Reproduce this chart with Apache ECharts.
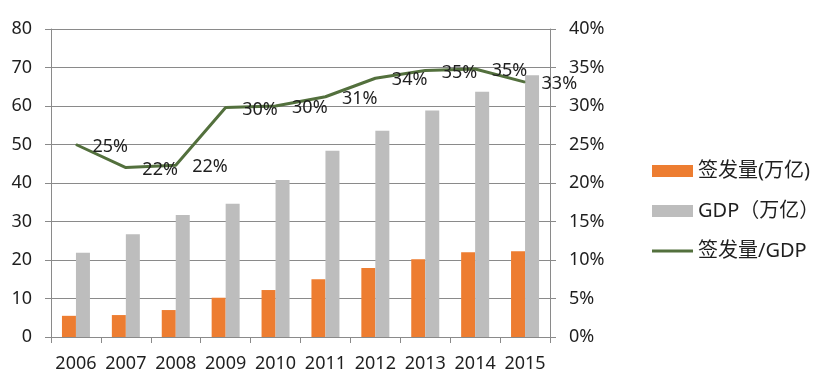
<!DOCTYPE html>
<html>
<head>
<meta charset="utf-8">
<script src="https://cdn.jsdelivr.net/npm/echarts@6/dist/echarts.min.js"></script>
<style>
html,body{margin:0;padding:0;background:#fff;}
#chart{width:828px;height:383px;}
</style>
</head>
<body>
<div id="chart"></div>
<script>
var years = ['2006','2007','2008','2009','2010','2011','2012','2013','2014','2015'];
var issuance = [5.5, 5.7, 7.0, 10.2, 12.2, 15.0, 17.9, 20.2, 22.0, 22.3];
var gdp = [21.9, 26.7, 31.7, 34.6, 40.8, 48.4, 53.6, 58.8, 63.7, 68.0];
var ratio = [25.0, 22.0, 22.3, 29.8, 30.0, 31.2, 33.6, 34.6, 34.8, 33.1];
var seriesNames = ['签发量(万亿)', 'GDP（万亿）', '签发量/GDP'];

var FONT = '"Noto Sans", "Noto Sans CJK SC", sans-serif';
var AXIS_COLOR = '#8a8a8a';
var TEXT_COLOR = '#1f1f1f';
var LINE_COLOR = '#53703D';

var chart = echarts.init(document.getElementById('chart'), null, {renderer: 'canvas'});
chart.setOption({
  animation: false,
  backgroundColor: '#ffffff',
  textStyle: {fontFamily: FONT},
  grid: {left: 51, right: 278, top: 29, bottom: 46, containLabel: false},
  legend: {
    orient: 'vertical',
    left: 652,
    top: 159,
    padding: 0,
    itemWidth: 41,
    itemHeight: 12,
    itemGap: 16,
    itemTextGap: 5,
    textStyle: {fontSize: 20, color: TEXT_COLOR, fontFamily: FONT, lineHeight: 24},
    data: [
      {name: seriesNames[0], icon: 'rect'},
      {name: seriesNames[1], icon: 'rect'},
      {name: seriesNames[2], icon: 'path://M0,0 L41,0 L41,3 L0,3 Z', itemStyle: {color: LINE_COLOR, opacity: 1}}
    ]
  },
  xAxis: {
    type: 'category',
    data: years,
    boundaryGap: true,
    axisLine: {show: true, lineStyle: {color: AXIS_COLOR, width: 1}},
    axisTick: {show: true, length: 6, interval: 0, lineStyle: {color: AXIS_COLOR}},
    axisLabel: {fontSize: 18, color: TEXT_COLOR, margin: 18, interval: 0, fontFamily: FONT}
  },
  yAxis: [
    {
      type: 'value', min: 0, max: 80, interval: 10,
      axisLine: {show: true, lineStyle: {color: AXIS_COLOR}},
      axisTick: {show: true, length: 6, lineStyle: {color: AXIS_COLOR}},
      axisLabel: {fontSize: 18, color: TEXT_COLOR, margin: 19, fontFamily: FONT},
      splitLine: {show: true, lineStyle: {color: AXIS_COLOR, width: 1}}
    },
    {
      type: 'value', min: 0, max: 40, interval: 5, position: 'right',
      axisLine: {show: true, lineStyle: {color: AXIS_COLOR}},
      axisTick: {show: true, length: 6, lineStyle: {color: AXIS_COLOR}},
      axisLabel: {fontSize: 18, color: TEXT_COLOR, margin: 19, fontFamily: FONT, formatter: '{value}%'},
      splitLine: {show: false}
    }
  ],
  series: [
    {
      name: seriesNames[0], type: 'bar', data: issuance, yAxisIndex: 0,
      barWidth: 14, barGap: '0%',
      itemStyle: {color: '#ED7D31'}
    },
    {
      name: seriesNames[1], type: 'bar', data: gdp, yAxisIndex: 0,
      barWidth: 14, barGap: '0%',
      itemStyle: {color: '#BDBDBD'}
    },
    {
      name: seriesNames[2], type: 'line', data: ratio, yAxisIndex: 1,
      symbol: 'circle', symbolSize: 1, showSymbol: true,
      lineStyle: {color: LINE_COLOR, width: 3},
      itemStyle: {color: LINE_COLOR},
      z: 5,
      label: {
        show: true, position: 'right', distance: 16, offset: [0, 2],
        fontSize: 18, color: TEXT_COLOR, fontFamily: FONT,
        formatter: function (p) { return Math.round(p.value) + '%'; }
      }
    }
  ]
});
</script>
</body>
</html>
